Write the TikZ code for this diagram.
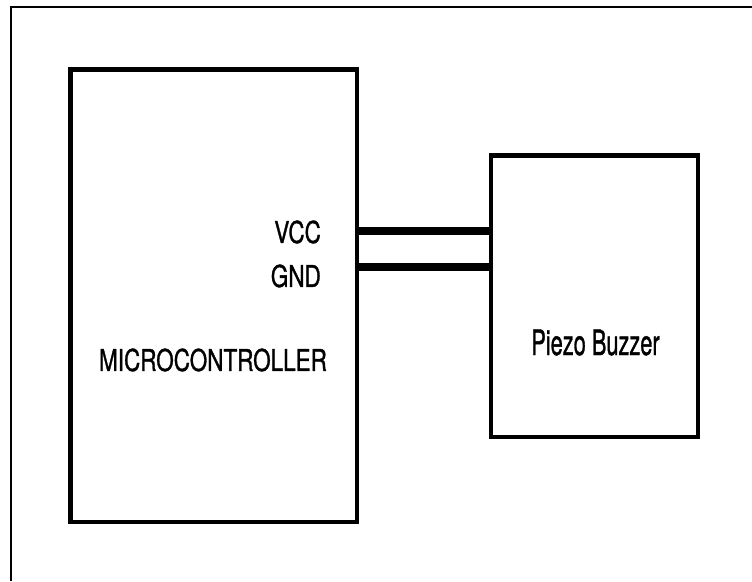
\documentclass[tikz,border=0pt]{standalone}
\usepackage{fontspec}
\setmainfont{TeX Gyre Heros}
\newfontfamily\grosso[FakeBold=1.3]{TeX Gyre Heros}
\begin{document}
\begin{tikzpicture}[x=1pt,y=-1pt,
  caixa/.style={draw, line width=4.5pt, inner sep=0pt, outer sep=0pt},
  fio/.style={line width=8pt},
  rotulo/.style={font=\grosso\fontsize{30}{32}\selectfont, xscale=0.75, inner sep=0pt}]
  \useasboundingbox (0,0) rectangle (752,581);
  % moldura
  \draw[line width=2pt] (11,581) -- (11,7) -- (752,7);
  % microcontrolador
  \node[caixa, minimum width=286.5pt, minimum height=452.5pt] (mcu) at (213.75,295.75) {};
  \node[rotulo, anchor=east] (vcc) at (321,232) {VCC};
  \node[rotulo, anchor=east] (gnd) at (321,276) {GND};
  \node[rotulo] (nome) at (213,360) {MICROCONTROLLER};
  % buzzer
  \node[caixa, minimum width=207pt, minimum height=281.5pt] (buzzer) at (594.5,296.25) {};
  \node[rotulo, font=\grosso\fontsize{35}{37}\selectfont, xscale=0.83] (piezo) at (595.5,342.5) {Piezo Buzzer};
  % fios
  \coordinate (fiovcc) at (424,231);
  \coordinate (fiognd) at (424,267);
  \draw[fio] (mcu.east |- fiovcc) -- (buzzer.west |- fiovcc);
  \draw[fio] (mcu.east |- fiognd) -- (buzzer.west |- fiognd);
\end{tikzpicture}
\end{document}
